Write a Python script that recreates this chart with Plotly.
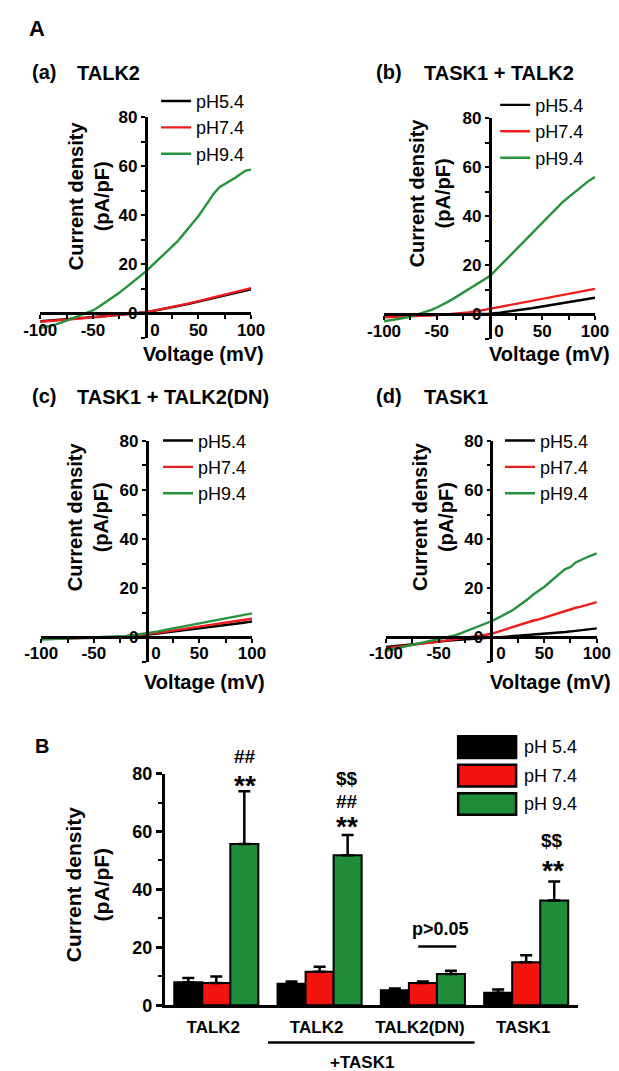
import plotly.graph_objects as go

W, H = 619, 1071

def px(x):
    return x / W

def py(y):
    return 1 - y / H

# ---------------- data ----------------
V5 = [-100, -95, -90, -85, -80, -75, -70, -65, -60, -55, -50, -45, -40, -35, -30, -25, -20, -15, -10, -5,
      0, 5, 10, 15, 20, 25, 30, 35, 40, 45, 50, 55, 60, 65, 70, 75, 80, 85, 90, 95, 100]
V10 = [-100, -90, -80, -70, -60, -50, -40, -30, -20, -10, 0, 10, 20, 30, 40, 50, 60, 70, 80, 90, 100]

# (a) TALK2
a_ph54 = [-3.2, -2.9, -2.6, -2.3, -2.0, -1.7, -1.3, -0.8, -0.4, 0.0, 0.5, 1.2, 2.0, 2.9, 3.8, 4.8, 5.8, 6.8, 7.8, 8.8, 9.8]
a_ph74 = [-3.4, -3.1, -2.8, -2.4, -2.1, -1.7, -1.3, -0.8, -0.4, 0.0, 0.5, 1.3, 2.1, 3.0, 4.0, 5.0, 6.0, 7.1, 8.1, 9.2, 10.3]
a_ph94 = [-6.0, -5.6, -5.0, -4.5, -3.8, -3.0, -2.3, -1.5, -0.7, 0.1, 1.2, 2.5, 3.9, 5.3, 6.9, 8.4, 10.1, 11.8, 13.5, 15.3,
          17.0, 19.1, 21.2, 23.0, 25.0, 27.1, 29.2, 31.8, 34.2, 37.0, 39.6, 42.8, 45.8, 49.0, 51.4, 52.6, 53.8, 55.3, 56.8, 58.2, 58.6]

# (b) TASK1 + TALK2
b_ph54 = [-0.8, -0.7, -0.6, -0.5, -0.4, -0.35, -0.3, -0.2, -0.1, 0.1, 0.3, 0.7, 1.2, 1.8, 2.5, 3.2, 3.9, 4.6, 5.3, 6.0, 6.8]
b_ph74 = [-1.2, -1.1, -0.9, -0.7, -0.5, -0.3, 0.0, 0.3, 0.8, 1.4, 2.2, 3.0, 3.8, 4.6, 5.5, 6.3, 7.2, 8.0, 8.9, 9.6, 10.4]
b_ph94 = [-2.8, -2.5, -2.2, -1.8, -1.4, -0.9, -0.3, 0.3, 1.0, 1.8, 2.8, 3.8, 5.0, 6.2, 7.5, 8.7, 10.0, 11.3, 12.6, 14.0,
          15.5, 17.6, 19.8, 22.1, 24.2, 26.4, 28.6, 30.9, 33.0, 35.2, 37.4, 39.6, 41.8, 43.9, 46.0, 47.8, 49.6, 51.4, 53.0, 54.7, 56.0]

# (c) TASK1 + TALK2(DN)
c_ph54 = [-0.4, -0.4, -0.35, -0.3, -0.3, -0.25, -0.2, -0.05, 0.2, 0.5, 1.0, 1.5, 2.0, 2.6, 3.1, 3.7, 4.2, 4.7, 5.3, 5.8, 6.4]
c_ph74 = [-0.6, -0.55, -0.5, -0.45, -0.4, -0.3, -0.2, 0.0, 0.3, 0.7, 1.2, 1.8, 2.4, 3.0, 3.7, 4.4, 5.0, 5.6, 6.3, 6.9, 7.6]
c_ph94 = [-1.0, -0.85, -0.7, -0.55, -0.4, -0.25, -0.1, 0.15, 0.5, 1.0, 1.5, 2.3, 3.2, 4.0, 4.9, 5.7, 6.6, 7.4, 8.2, 9.0, 9.7]

# (d) TASK1
d_ph54 = [-4.0, -3.5, -3.1, -2.6, -2.2, -1.8, -1.4, -1.0, -0.7, -0.4, -0.1, 0.1, 0.4, 0.7, 1.0, 1.3, 1.7, 2.1, 2.6, 3.1, 3.6]
d_ph74 = [-4.5, -4.2, -4.0, -3.7, -3.4, -3.1, -2.9, -2.6, -2.3, -2.1, -1.8, -1.5, -1.3, -1.0, -0.8, -0.5, -0.2, 0.2, 0.5, 1.0,
          1.4, 2.1, 2.7, 3.3, 4.0, 4.6, 5.3, 6.1, 6.8, 7.3, 8.0, 8.7, 9.3, 9.8, 10.5, 11.3, 12.0, 12.5, 13.2, 13.6, 14.3]
d_ph94 = [-5.5, -5.0, -4.5, -4.0, -3.5, -3.0, -2.5, -2.0, -1.6, -1.2, -0.8, -0.4, 0.0, 0.7, 1.5, 2.3, 3.2, 4.0, 4.8, 5.6,
          6.5, 7.6, 8.7, 9.8, 11.0, 12.5, 14.0, 15.7, 17.5, 18.9, 20.5, 22.3, 24.0, 26.0, 27.8, 28.6, 30.5, 31.6, 32.5, 33.4, 34.2]

# (B) bar chart
bar_groups = ["TALK2", "TALK2", "TALK2(DN)", "TASK1"]
bar_x = [0, 1, 2, 3]
bar_ph54 = [7.9, 7.4, 5.2, 4.3]
bar_ph54_err = [1.5, 0.8, 0.6, 1.1]
bar_ph74 = [7.7, 11.6, 7.7, 14.8]
bar_ph74_err = [2.2, 1.7, 0.5, 2.5]
bar_ph94 = [55.7, 51.8, 10.8, 36.2]
bar_ph94_err = [18.2, 7.0, 1.1, 6.5]

iv_names = ["pH5.4", "pH7.4", "pH9.4"]
bar_names = ["pH 5.4", "pH 7.4", "pH 9.4"]

# significance labels: (text, group x, value level, font size)
sig_marks = [
    ("##", 0.28, 85.8, 19), ("**", 0.28, 76.0, 28),
    ("$$", 1.27, 78.3, 19), ("##", 1.27, 70.5, 19), ("**", 1.27, 61.9, 28),
    ("$$", 3.25, 56.9, 19), ("**", 3.26, 46.5, 28),
]

# ---------------- style ----------------
FONT = "Liberation Sans, Arial, sans-serif"
BLACK = "#000000"
RED = "#ee1c1c"
GREEN = "#24933c"
RED_BAR = "#f2150f"
GREEN_BAR = "#1f8c39"

fig = go.Figure()

panels = [
    dict(key="", xl=16, xr=238, yb=326, yt=101, lx=138, ly=66,
         data=[(V10, a_ph54), (V10, a_ph74), (V5, a_ph94)]),
    dict(key="2", xl=378, xr=600, yb=327, yt=102, lx=495, ly=70,
         data=[(V10, b_ph54), (V10, b_ph74), (V5, b_ph94)]),
    dict(key="3", xl=17, xr=239, yb=656, yt=431, lx=140, ly=412,
         data=[(V10, c_ph54), (V10, c_ph74), (V10, c_ph94)]),
    dict(key="4", xl=380, xr=602, yb=656, yt=431, lx=500, ly=412,
         data=[(V10, d_ph54), (V5, d_ph74), (V5, d_ph94)]),
]
colors = [BLACK, RED, GREEN]

layout_axes = {}
legends = {}
for p in panels:
    k = p["key"]
    for (vx, vy), name, col in zip(p["data"], iv_names, colors):
        fig.add_trace(go.Scatter(
            x=vx, y=vy, name=name, mode="lines",
            line=dict(color=col, width=2.4),
            xaxis="x" + k, yaxis="y" + k,
            legend="legend" + k, showlegend=True,
        ))
    y0px = p["yb"] - (p["yb"] - p["yt"]) * 10 / 90
    x0px = (p["xl"] + p["xr"]) / 2
    layout_axes["xaxis" + k] = dict(
        domain=[px(p["xl"]), px(p["xr"])], range=[-100, 100],
        anchor="free", position=py(y0px),
        showline=True, linewidth=2.5, linecolor=BLACK,
        ticks="outside", ticklen=4, tickwidth=2, tickcolor=BLACK,
        tickvals=[-100, -50, 0, 50, 100],
        ticktext=["-100", "-50", "\u00a0\u00a0\u00a0\u00a00", "50", "100"],
        ticklabelstandoff=-4,
        minor=dict(dtick=25, tick0=0, ticks="outside", ticklen=4, tickwidth=2, tickcolor=BLACK),
        tickfont=dict(family=FONT, size=17, color=BLACK, weight="bold"),
        showgrid=False, zeroline=False, fixedrange=True,
    )
    layout_axes["yaxis" + k] = dict(
        domain=[py(p["yb"]), py(p["yt"])], range=[-10, 80],
        anchor="free", position=px(x0px),
        showline=True, linewidth=2.5, linecolor=BLACK,
        ticks="outside", ticklen=4, tickwidth=2, tickcolor=BLACK,
        tickvals=[0, 20, 40, 60, 80],
        minor=dict(dtick=10, tick0=0, ticks="outside", ticklen=4, tickwidth=2, tickcolor=BLACK),
        tickfont=dict(family=FONT, size=17, color=BLACK, weight="bold"),
        showgrid=False, zeroline=False, fixedrange=True,
    )
    legends["legend" + k] = dict(
        x=px(p["lx"]), y=py(p["ly"]), xanchor="left", yanchor="top",
        xref="paper", yref="paper",
        bgcolor="rgba(0,0,0,0)", borderwidth=0,
        font=dict(family=FONT, size=18, color=BLACK),
        tracegroupgap=0, itemwidth=30,
    )

# bar chart
for vals, errs, name, col in zip([bar_ph54, bar_ph74, bar_ph94],
                                 [bar_ph54_err, bar_ph74_err, bar_ph94_err],
                                 bar_names, [BLACK, RED_BAR, GREEN_BAR]):
    fig.add_trace(go.Bar(
        x=bar_x, y=vals, name=name, xaxis="x5", yaxis="y5",
        marker=dict(color=col, line=dict(color=BLACK, width=2)),
        error_y=dict(type="data", array=errs, arrayminus=[0] * len(errs), symmetric=False,
                     color=BLACK, thickness=2.5, width=6),
        showlegend=False,
    ))

BAR_L, BAR_R, BAR_B, BAR_T = 147, 582, 1006, 770
layout_axes["xaxis5"] = dict(
    domain=[px(BAR_L), px(BAR_R)], range=[-0.5, 3.5], anchor="y5",
    showline=True, linewidth=2.5, linecolor=BLACK, ticks="",
    tickvals=bar_x, ticktext=bar_groups, ticklabelstandoff=5, ticklabelshift=-3,
    tickfont=dict(family=FONT, size=17, color=BLACK, weight="bold"),
    showgrid=False, zeroline=False, fixedrange=True,
)
layout_axes["yaxis5"] = dict(
    domain=[py(BAR_B), py(BAR_T)], range=[0, 80], anchor="x5",
    showline=True, linewidth=2.5, linecolor=BLACK,
    ticks="outside", ticklen=6, tickwidth=2.5, tickcolor=BLACK,
    tickvals=[0, 20, 40, 60, 80],
    minor=dict(dtick=10, tick0=0, ticks="outside", ticklen=4, tickwidth=2, tickcolor=BLACK),
    tickfont=dict(family=FONT, size=18, color=BLACK, weight="bold"),
    showgrid=False, zeroline=False, fixedrange=True,
)

def bar_val_to_paper(v):
    return py(BAR_B - v * (BAR_B - BAR_T) / 80)

annotations = []

def ann(text, x, y, size, bold=True, xanchor="center", yanchor="middle",
        xref="paper", yref="paper", angle=0):
    annotations.append(dict(
        text=text, x=x, y=y, xref=xref, yref=yref, xanchor=xanchor, yanchor=yanchor,
        showarrow=False, textangle=angle,
        font=dict(family=FONT, size=size, color=BLACK, weight="bold" if bold else "normal"),
    ))

# panel letters and titles
ann("A", px(2), py(11), 22, xanchor="left")
ann("(a)", px(5), py(55), 20, xanchor="left")
ann("TALK2", px(53), py(56), 20, xanchor="left")
ann("(b)", px(367), py(55), 20, xanchor="left")
ann("TASK1 + TALK2", px(418), py(56), 20, xanchor="left")
ann("(c)", px(5), py(385), 20, xanchor="left")
ann("TASK1 + TALK2(DN)", px(53), py(386), 20, xanchor="left")
ann("(d)", px(367), py(385), 20, xanchor="left")
ann("TASK1", px(418), py(386), 20, xanchor="left")

# IV axis titles
for (cx, cy) in [(188, 342), (552, 342), (189, 677), (553, 677)]:
    ann("Voltage (mV)", px(cx), py(cy), 20)
for (cx, cy) in [(67, 181), (426, 178), (66, 508), (429, 508)]:
    ann("Current density<br>(pA/pF)", px(cx), py(cy), 20, angle=-90)

# B panel
ann("B", px(8), py(742), 20, xanchor="left")
ann("Current density<br>(pA/pF)", px(65), py(883), 21, angle=-90)

for text, gx, lvl, size in sig_marks:
    ann(text, gx, bar_val_to_paper(lvl), size, xref="x5", yref="paper")
ann("p>0.05", 2.17, bar_val_to_paper(26.4), 18, xref="x5", yref="paper")
ann("+TASK1", 1.41, py(1064), 17, xref="x5", yref="paper")

# bar legend texts
for name, cy in zip(bar_names, [743, 772, 801]):
    ann(name, px(523), py(cy), 18, bold=False, xanchor="left")

shapes = []
for col, cy in zip([BLACK, RED_BAR, GREEN_BAR], [743, 772, 801]):
    shapes.append(dict(type="rect", xref="paper", yref="paper",
                       x0=px(456), x1=px(517), y0=py(cy + 11), y1=py(cy - 11),
                       fillcolor=col, line=dict(color=BLACK, width=2.5)))
shapes.append(dict(type="line", xref="x5", yref="y5", x0=1.955, x1=2.323, y0=20.3, y1=20.3,
                   line=dict(color=BLACK, width=2.5)))
shapes.append(dict(type="line", xref="x5", yref="paper", x0=0.5, x1=2.5, y0=py(1044), y1=py(1044),
                   line=dict(color=BLACK, width=2.5)))

fig.update_layout(
    width=W, height=H, autosize=False,
    margin=dict(l=0, r=0, t=0, b=0),
    paper_bgcolor="white", plot_bgcolor="rgba(0,0,0,0)",
    font=dict(family=FONT, color=BLACK),
    barmode="group", bargap=0.186, bargroupgap=0,
    annotations=annotations, shapes=shapes,
    **layout_axes, **legends,
)

fig.write_html("out.html")
